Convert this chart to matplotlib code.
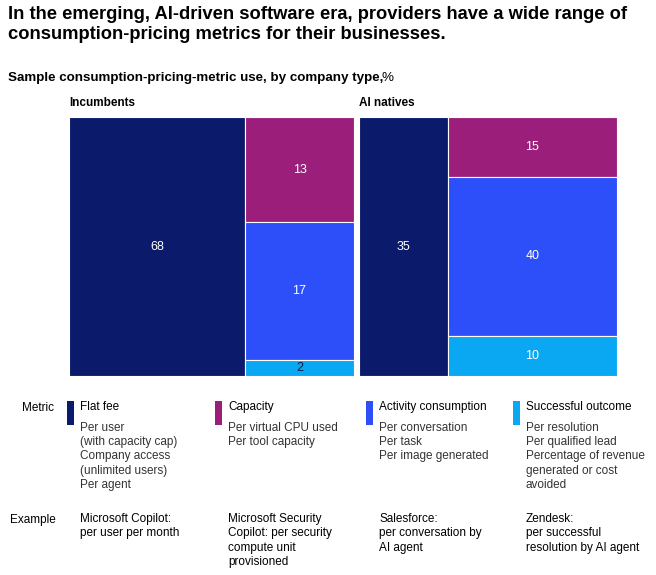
import matplotlib.pyplot as plt
from matplotlib.patches import Rectangle

plt.rcParams['font.family'] = ['Liberation Sans', 'DejaVu Sans']

panels = ['Incumbents', 'AI natives']
flat_fee = [68, 35]
capacity = [13, 15]
activity = [17, 40]
outcome = [2, 10]

colors = ['#0c1a6b', '#9c1e7b', '#2d4ffa', '#0aa7f2']
metric_names = ['Flat fee', 'Capacity', 'Activity consumption', 'Successful outcome']
metric_desc = ['Per user\n(with capacity cap)\nCompany access\n(unlimited users)\nPer agent',
               'Per virtual CPU used\nPer tool capacity',
               'Per conversation\nPer task\nPer image generated',
               'Per resolution\nPer qualified lead\nPercentage of revenue\ngenerated or cost\navoided']
examples = ['Microsoft Copilot:\nper user per month',
            'Microsoft Security\nCopilot: per security\ncompute unit\nprovisioned',
            'Salesforce:\nper conversation by\nAI agent',
            'Zendesk:\nper successful\nresolution by AI agent']

W, H = 656, 575
fig = plt.figure(figsize=(W / 100, H / 100), dpi=100)
ax = fig.add_axes([0, 0, 1, 1])
ax.set_xlim(0, W)
ax.set_ylim(H, 0)
ax.axis('off')

# panel geometry (pixels)
panel_x = [69, 359]
panel_w = [285, 258]
split = [176, 89]
top, bottom = 117, 376
ph = bottom - top

for i in range(2):
    x0 = panel_x[i]
    ax.text(x0, 109, panels[i], fontsize=8.5, fontweight='bold', va='bottom')
    ax.add_patch(Rectangle((x0, top), split[i], ph, fc=colors[0], ec='white', lw=0.8))
    ax.text(x0 + split[i] / 2, top + ph / 2, str(flat_fee[i]), color='white',
            ha='center', va='center', fontsize=9)
    rest = [capacity[i], activity[i], outcome[i]]
    tot = sum(rest)
    y = top
    cx = x0 + split[i]
    cw = panel_w[i] - split[i]
    for v, c in zip(rest, colors[1:]):
        h = v / tot * ph
        ax.add_patch(Rectangle((cx, y), cw, h, fc=c, ec='white', lw=0.8))
        ax.text(cx + cw / 2, y + h / 2, str(v), color='white' if v > 2 else '#0c1a3b',
                ha='center', va='center', fontsize=9)
        y += h

ax.text(8, 6, 'In the emerging, AI-driven software era, providers have a wide range of\n'
        'consumption-pricing metrics for their businesses.',
        fontsize=13.2, fontweight='bold', va='top', linespacing=1.25)
ax.text(8, 84, 'Sample consumption-pricing-metric use, by company type,', fontsize=9.6,
        fontweight='bold', va='bottom')
ax.text(382, 84, '%', fontsize=9.6, va='bottom')

# legend / table
col_x = [67, 215, 366, 513]
ax.text(22, 402, 'Metric', fontsize=8.5, va='top')
ax.text(10, 514, 'Example', fontsize=8.5, va='top')
for i in range(4):
    ax.add_patch(Rectangle((col_x[i], 401), 7, 24, fc=colors[i], ec='none'))
    ax.text(col_x[i] + 13, 401, metric_names[i], fontsize=8.5, va='top')
    ax.text(col_x[i] + 13, 422, metric_desc[i], fontsize=8.5, va='top',
            color='#333333', linespacing=1.25)
    ax.text(col_x[i] + 13, 513, examples[i], fontsize=8.5, va='top', linespacing=1.25)

fig.savefig('out.png', dpi=100)
